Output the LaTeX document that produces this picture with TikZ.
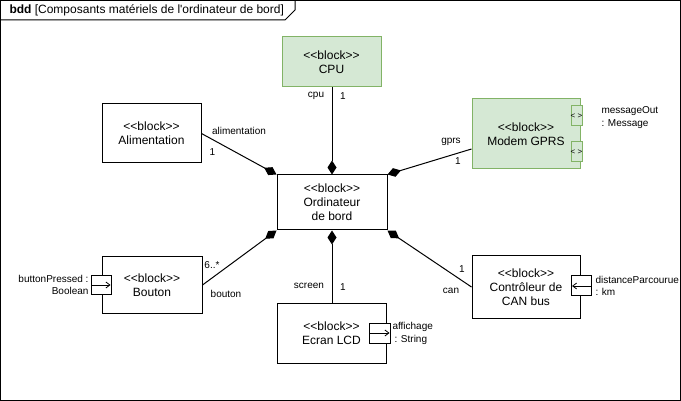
\documentclass[tikz,border=0pt]{standalone}
\usepackage{fontspec}
\setmainfont{Liberation Sans}[Ligatures=TeXOff]
\usetikzlibrary{arrows.meta}
\definecolor{gfill}{HTML}{D5E8D4}
\definecolor{gdraw}{HTML}{82B366}
\newcommand\blk{<{}<block>{}>}
\begin{document}
\begin{tikzpicture}[x=1pt,y=-1pt,
  line width=1pt,
  block/.style={draw=black, fill=white, align=center, inner sep=0pt,
    font=\fontsize{12}{14}\selectfont},
  gblock/.style={block, fill=gfill, draw=gdraw},
  lbl/.style={inner sep=0pt, font=\fontsize{10}{12}\selectfont},
  plbl/.style={inner sep=0pt, font=\fontsize{10}{12.5}\selectfont},
  portbox/.style={draw=black, fill=white, line width=1pt},
  gport/.style={draw=gdraw, fill=gfill, line width=1pt},
  gporttxt/.style={inner sep=0pt, font=\fontsize{8}{9}\selectfont},
  comp/.style={line width=1pt, -{Diamond[length=14pt,width=9pt]}},
  parr/.style={line width=0.8pt, -{Straight Barb[length=4pt,width=6pt]}}
]
\useasboundingbox (0,0) rectangle (681,401);
% frame
\draw[line width=1pt] (0.5,0.5) rectangle (680.5,400.5);
\draw[line width=1pt] (0.5,20) -- (285,20) -- (295,10) -- (295,0.5);
\node[anchor=west, inner sep=0pt, font=\fontsize{12}{14}\selectfont] (title) at (9,10.5)
  {\textbf{bdd} [Composants matériels de l'ordinateur de bord]};

% blocks
\node[gblock, minimum width=99pt, minimum height=50pt] (cpu) at (331.5,62) {\blk\\CPU};
\node[block, minimum width=99pt, minimum height=59pt] (alim) at (151.5,133.5) {\blk\\Alimentation};
\node[block, minimum width=110pt, minimum height=55pt] (ord) at (332,202.5) {\blk\\Ordinateur\\de bord};
\node[gblock, minimum width=108pt, minimum height=70pt] (modem) at (526,134) {\blk\\Modem GPRS};
\node[block, minimum width=100pt, minimum height=56pt] (bouton) at (152,285) {\blk\\Bouton};
\node[block, minimum width=109pt, minimum height=60pt] (ecran) at (331.5,333) {\blk\\Ecran LCD};
\node[block, minimum width=108pt, minimum height=62pt] (can) at (526,287) {\blk\\Contrôleur de\\CAN bus};

% modem ports
\draw[gport] (571,106) rectangle (582,126);
\draw[gport] (571,142) rectangle (582,162);
\node[gporttxt] (mp1) at (576.5,116) {< >};
\node[gporttxt] (mp2) at (576.5,152) {< >};
\node[plbl, anchor=west, align=left] (mplbl) at (601,117.5) {messageOut\\: Message};

% bouton port
\draw[portbox] (91,275.5) rectangle (111,294.5);
\coordinate (bpa) at (91,285);
\coordinate (bpb) at (110.5,285);
\draw[parr] (bpa) -- (bpb);
\node[plbl, anchor=east, align=right] (bplbl) at (89,285) {buttonPressed :\\Boolean};

% ecran port
\draw[portbox] (369.5,323) rectangle (390,343);
\coordinate (epa) at (369.5,333);
\coordinate (epb) at (389.5,333);
\draw[parr] (epa) -- (epb);
\node[plbl, anchor=west, align=left] (eplbl) at (392,333.5) {affichage\\\hspace*{2pt}: String};

% can port
\draw[portbox] (571.5,276) rectangle (591,296);
\coordinate (cpa) at (591,286);
\coordinate (cpb) at (572,286);
\draw[parr] (cpa) -- (cpb);
\node[plbl, anchor=west, align=left] (cplbl) at (595,286) {distanceParcourue\\: km};

% compositions
\draw[comp] (cpu.south -| ord.north) -- (ord.north);
\draw[comp] (alim.east) -- (ord.north west);
\draw[comp] ([yshift=-15pt]modem.west) -- (ord.north east);
\draw[comp] (bouton.east) -- (ord.south west);
\draw[comp] (ecran.north -| ord.south) -- (ord.south);
\draw[comp] (can.west) -- (ord.south east);

% labels
\node[lbl] (l1) at (316,95.5) {cpu};
\node[lbl] (l2) at (343,96.5) {1};
\node[lbl] (l3) at (239,130.5) {alimentation};
\node[lbl] (l4) at (212.5,152) {1};
\node[lbl] (l5) at (451,142) {gprs};
\node[lbl] (l6) at (458,161.5) {1};
\node[lbl] (l7) at (212,265) {6..*};
\node[lbl] (l8) at (226,294) {bouton};
\node[lbl] (l9) at (309,286) {screen};
\node[lbl] (l10) at (343,287) {1};
\node[lbl] (l11) at (462,269) {1};
\node[lbl] (l12) at (451,291) {can};
\end{tikzpicture}
\end{document}
